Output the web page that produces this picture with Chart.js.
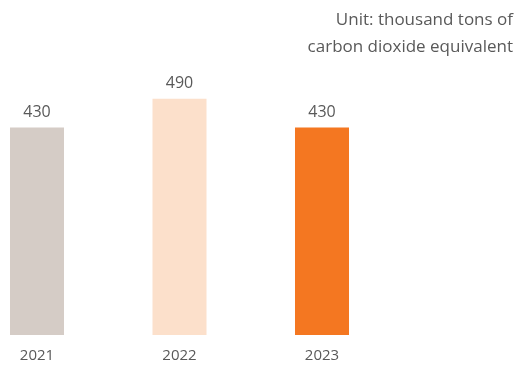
<!DOCTYPE html>
<html>
<head>
<meta charset="utf-8">
<script src="https://cdn.jsdelivr.net/npm/chart.js@4/dist/chart.umd.min.js"></script>
<style>
    html, body { margin: 0; padding: 0; background: #ffffff; }
    #wrap { position: relative; width: 515px; height: 365px; }
    #unit {
        position: absolute; top: 5px; right: 2px;
        font: 17px 'Open Sans', sans-serif; line-height: 27px;
        color: #595959; text-align: right;
    }
</style>
</head>
<body>
<div id="wrap">
    <canvas id="chart" width="515" height="365"></canvas>
    <div id="unit">Unit: thousand tons of<br>carbon dioxide equivalent</div>
</div>
<script>
// data
const years = ['2021', '2022', '2023'];
const emissions = [430, 490, 430];
const barColors = ['#d5ccc6', '#fce0cb', '#f47721'];

const textColor = '#595959';

// draws the value above each bar
const valueLabels = {
    id: 'valueLabels',
    afterDatasetsDraw(chart) {
        const ctx = chart.ctx;
        const meta = chart.getDatasetMeta(0);
        ctx.save();
        ctx.font = "16px 'Open Sans', sans-serif";
        ctx.fillStyle = textColor;
        ctx.textAlign = 'center';
        ctx.textBaseline = 'alphabetic';
        meta.data.forEach((bar, i) => {
            ctx.fillText(String(emissions[i]), bar.x, bar.y - 11);
        });
        ctx.restore();
    }
};

new Chart(document.getElementById('chart'), {
    type: 'bar',
    data: {
        labels: years,
        datasets: [{
            data: emissions,
            backgroundColor: barColors,
            borderWidth: 0,
            clip: false,
            categoryPercentage: 1,
            barPercentage: 0.379
        }]
    },
    options: {
        responsive: false,
        animation: false,
        layout: { padding: { left: 37, right: 193, top: 20, bottom: -12 } },
        plugins: {
            legend: { display: false },
            tooltip: { enabled: false }
        },
        scales: {
            x: {
                offset: false,
                grid: { display: false, drawTicks: false },
                border: { display: false },
                ticks: {
                    color: textColor,
                    padding: 12,
                    font: { family: "'Open Sans', sans-serif", size: 15 }
                }
            },
            y: {
                display: false,
                min: 0,
                max: 653
            }
        }
    },
    plugins: [valueLabels]
});
</script>
</body>
</html>
